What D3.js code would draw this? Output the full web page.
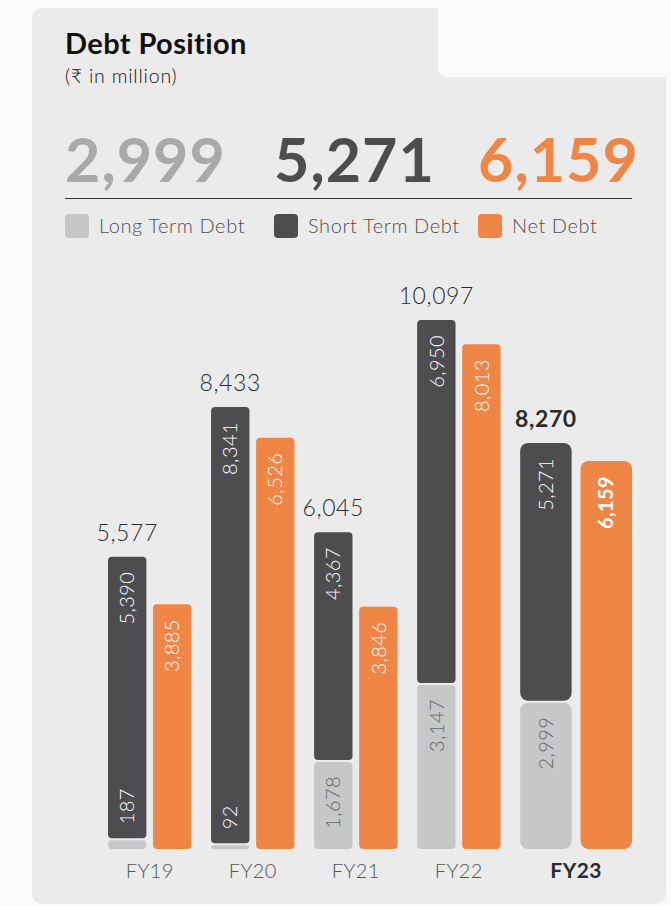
<!DOCTYPE html>
<html>
<head>
<meta charset="utf-8">
<script src="https://cdn.jsdelivr.net/npm/d3@7"></script>
<style>
  html, body { margin: 0; padding: 0; background: #fafafa; }
  svg { display: block; font-family: Lato, "Open Sans", sans-serif; }
</style>
</head>
<body>
<div id="chart"></div>
<script>
;(function() {
  "use strict";

  // Data
  // ---------------------------------------------------------------------------
  var years     = ["FY19", "FY20", "FY21", "FY22", "FY23"];
  var longTerm  = [187, 92, 1678, 3147, 2999];
  var shortTerm = [5390, 8341, 4367, 6950, 5271];
  var netDebt   = [3885, 6526, 3846, 8013, 6159];
  var totals    = [5577, 8433, 6045, 10097, 8270];
  var seriesNames = ["Long Term Debt", "Short Term Debt", "Net Debt"];
  var current = "FY23";

  var colors = { long: "#c6c7c9", short: "#4d4d4f", net: "#ef8646", bigLong: "#a8a9ab" };
  var fmt = d3.format(",");

  var width = 671, height = 906;
  var svg = d3.select("#chart").append("svg")
    .attr("width", width)
    .attr("height", height);

  // Panel with notch at top right
  // ---------------------------------------------------------------------------
  svg.append("rect")
    .attr("x", 32).attr("y", 8)
    .attr("width", 634).attr("height", 896)
    .attr("rx", 10)
    .attr("fill", "#ebebeb");

  svg.append("rect")
    .attr("x", 438).attr("y", -20)
    .attr("width", 260).attr("height", 97)
    .attr("rx", 10)
    .attr("fill", "#fafafa");

  // Header
  // ---------------------------------------------------------------------------
  svg.append("text")
    .attr("x", 65).attr("y", 54)
    .attr("font-size", 29).attr("font-weight", 700)
    .attr("letter-spacing", 0.4)
    .attr("fill", "#111")
    .text("Debt Position");

  svg.append("text")
    .attr("x", 65).attr("y", 83)
    .attr("font-size", 19.5).attr("font-weight", 300)
    .attr("letter-spacing", 0.8)
    .attr("fill", "#111")
    .text("(\u20B9 in million)");

  var ci = years.indexOf(current);
  var headline = [
    { v: longTerm[ci], x: 65, c: colors.bigLong },
    { v: shortTerm[ci], x: 274, c: colors.short },
    { v: netDebt[ci], x: 478, c: colors.net }
  ];

  svg.selectAll("text.big")
    .data(headline)
    .enter().append("text")
      .attr("class", "big")
      .attr("x", function(d) { return d.x; })
      .attr("y", 182)
      .attr("font-size", 61).attr("font-weight", 700)
      .attr("letter-spacing", 1)
      .attr("fill", function(d) { return d.c; })
      .text(function(d) { return fmt(d.v); });

  svg.append("line")
    .attr("x1", 65).attr("x2", 632)
    .attr("y1", 198.5).attr("y2", 198.5)
    .attr("stroke", "#333").attr("stroke-width", 1);

  // Legend
  var legend = svg.selectAll("g.legend")
    .data(seriesNames)
    .enter().append("g")
      .attr("class", "legend")
      .attr("transform", function(d, i) { return "translate(" + headline[i].x + ",214)"; });

  legend.append("rect")
    .attr("width", 24).attr("height", 24).attr("rx", 4)
    .attr("fill", function(d, i) { return [colors.long, colors.short, colors.net][i]; });

  legend.append("text")
    .attr("x", 34).attr("y", 19)
    .attr("font-size", 20).attr("font-weight", 300)
    .attr("letter-spacing", 0.6)
    .attr("fill", "#505050")
    .text(function(d) { return d; });

  // Scales
  // ---------------------------------------------------------------------------
  var base = 849;
  var units = years.map(function(y) { return y === current ? 1.34 : 1; });
  var gapU = 0.235;
  var starts = [], acc = 0;
  units.forEach(function(u) { starts.push(acc); acc += u + gapU; });
  var totalU = acc - gapU;

  var xU = d3.scaleLinear().domain([0, totalU]).range([108, 632]);

  // stacked bars, net bars and highlighted year each have their own scale
  var yStack = d3.scaleLinear().domain([0, 10000]).range([base, base - 524]);
  var yNet   = d3.scaleLinear().domain([0, 10000]).range([base, base - 630]);
  var yCur   = d3.scaleLinear().domain([0, 10000]).range([base, base - 491]);

  var groups = years.map(function(y, i) {
    var s = starts[i], u = units[i];
    var ys = y === current ? yCur : yStack;
    return {
      year: y,
      cur: y === current,
      x0: xU(s),
      x1: xU(s + u * 0.46),
      x2: xU(s + u * 0.54),
      x3: xU(s + u),
      long: longTerm[i], short: shortTerm[i], net: netDebt[i], total: totals[i],
      yLong: ys(longTerm[i]),
      yTotal: ys(longTerm[i] + shortTerm[i]),
      yNet: yNet(netDebt[i])
    };
  });

  // Bars
  // ---------------------------------------------------------------------------
  var g = svg.selectAll("g.year")
    .data(groups)
    .enter().append("g")
      .attr("class", "year");

  // long term (bottom of stack)
  g.append("rect")
    .attr("x", function(d) { return d.x0; })
    .attr("y", function(d) { return d.yLong + 1; })
    .attr("width", function(d) { return d.x1 - d.x0; })
    .attr("height", function(d) { return Math.max(base - d.yLong - 1, 4); })
    .attr("rx", function(d) { return d.cur ? 8 : 4; })
    .attr("fill", colors.long);

  // short term (top of stack)
  g.append("rect")
    .attr("x", function(d) { return d.x0; })
    .attr("y", function(d) { return d.yTotal; })
    .attr("width", function(d) { return d.x1 - d.x0; })
    .attr("height", function(d) { return d.yLong - 1 - d.yTotal; })
    .attr("rx", function(d) { return d.cur ? 8 : 4; })
    .attr("fill", colors.short);

  // net debt
  g.append("rect")
    .attr("x", function(d) { return d.x2; })
    .attr("y", function(d) { return d.yNet; })
    .attr("width", function(d) { return d.x3 - d.x2; })
    .attr("height", function(d) { return base - d.yNet; })
    .attr("rx", function(d) { return d.cur ? 8 : 4; })
    .attr("fill", colors.net);

  // Labels
  // ---------------------------------------------------------------------------
  function vLabel(sel, cx, y, anchor, fill, weight) {
    sel.append("text")
      .attr("transform", function(d) { return "translate(" + cx(d) + "," + y(d) + ") rotate(-90)"; })
      .attr("text-anchor", anchor)
      .attr("dy", "0.36em")
      .attr("font-size", 20)
      .attr("letter-spacing", 0.4)
      .attr("font-weight", weight || 300)
      .attr("fill", fill);
  }

  function midShort(d) { return (d.x0 + d.x1) / 2; }
  function midNet(d) { return (d.x2 + d.x3) / 2; }

  g.append("text")
    .attr("x", midShort)
    .attr("y", function(d) { return d.yTotal - 16; })
    .attr("text-anchor", "middle")
    .attr("font-size", 23)
    .attr("letter-spacing", 0.6)
    .attr("font-weight", function(d) { return d.cur ? 700 : 300; })
    .attr("fill", "#2b2b2b")
    .text(function(d) { return fmt(d.total); });

  vLabel(g, midShort, function(d) { return d.yTotal + 15; }, "end", "#fff", 300);
  g.select("text:last-child").text(function(d) { return fmt(d.short); });

  vLabel(g, midNet, function(d) { return d.yNet + 15; }, "end", "#fff", 300);
  g.select("text:last-child")
    .attr("font-weight", function(d) { return d.cur ? 700 : 300; })
    .text(function(d) { return fmt(d.net); });

  // long term label: inside its segment if it fits, else at the foot of the short bar
  g.each(function(d) {
    var fits = base - d.yLong > 60;
    var gy = d3.select(this);
    vLabel(gy, midShort,
      function() { return fits ? d.yLong + 15 : d.yLong - 15; },
      fits ? "end" : "start",
      fits ? "#666" : "#fff", 300);
    gy.select("text:last-child").text(fmt(d.long));
  });

  // Category labels
  g.append("text")
    .attr("x", function(d) { return (d.x0 + d.x3) / 2; })
    .attr("y", 878)
    .attr("text-anchor", "middle")
    .attr("font-size", function(d) { return d.cur ? 21 : 20; })
    .attr("letter-spacing", 0.4)
    .attr("font-weight", function(d) { return d.cur ? 700 : 300; })
    .attr("fill", function(d) { return d.cur ? "#2b2b2b" : "#555"; })
    .text(function(d) { return d.year; });
})();
</script>
</body>
</html>
